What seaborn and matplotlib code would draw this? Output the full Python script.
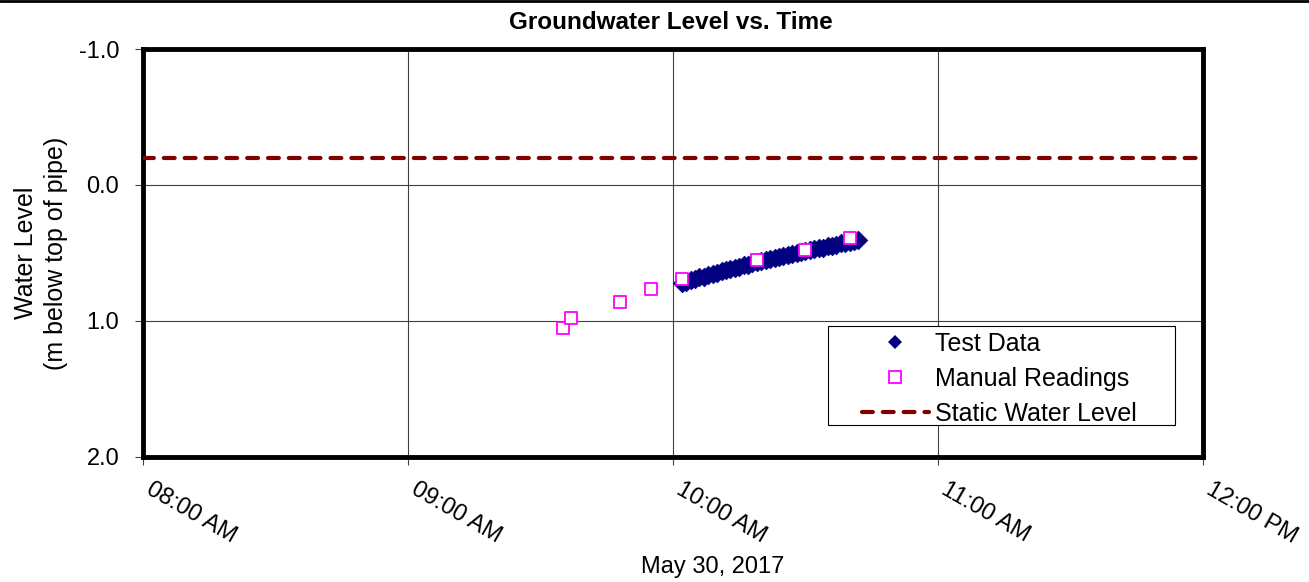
import matplotlib
matplotlib.use("Agg")
import matplotlib.pyplot as plt
import seaborn as sns
import pandas as pd
from matplotlib.patches import Rectangle
from matplotlib.lines import Line2D

# ---------------- data ----------------
date = "2017-05-30"
test_times = ["10:02", "10:03", "10:04", "10:05", "10:06", "10:07", "10:08", "10:09",
              "10:10", "10:11", "10:12", "10:13", "10:14", "10:15", "10:16", "10:17",
              "10:18", "10:19", "10:20", "10:21", "10:22", "10:23", "10:24", "10:25",
              "10:26", "10:27", "10:28", "10:29", "10:30", "10:31", "10:32", "10:33",
              "10:34", "10:35", "10:36", "10:37", "10:38", "10:39", "10:40", "10:41",
              "10:42"]
test_levels = [0.72, 0.71, 0.70, 0.69, 0.68, 0.675, 0.665, 0.655,
               0.645, 0.635, 0.625, 0.615, 0.61, 0.60, 0.59, 0.585,
               0.575, 0.565, 0.56, 0.55, 0.545, 0.535, 0.53, 0.52,
               0.515, 0.505, 0.50, 0.49, 0.485, 0.48, 0.47, 0.465,
               0.46, 0.45, 0.445, 0.44, 0.43, 0.425, 0.42, 0.41,
               0.405]
manual_times = ["09:35", "09:37", "09:48", "09:55", "10:02", "10:19", "10:30", "10:40"]
manual_levels = [1.05, 0.98, 0.86, 0.765, 0.69, 0.55, 0.475, 0.39]
static_level = -0.2
y_ticks = [-1.0, 0.0, 1.0, 2.0]
x_tick_times = ["08:00", "09:00", "10:00", "11:00", "12:00"]
x_tick_labels = ["08:00 AM", "09:00 AM", "10:00 AM", "11:00 AM", "12:00 PM"]
legend_labels = ["Test Data", "Manual Readings", "Static Water Level"]

# ---------------- style ----------------
sns.set_style("white")
plt.rcParams["font.family"] = ["Liberation Sans", "DejaVu Sans"]
plt.rcParams["text.color"] = "black"
plt.rcParams["axes.labelcolor"] = "black"
plt.rcParams["xtick.color"] = "black"
plt.rcParams["ytick.color"] = "black"

fig = plt.figure(figsize=(13.09, 5.82), dpi=100)
ax = fig.add_axes([0.1092, 0.2148, 0.8098, 0.701])

test_df = pd.DataFrame({"time": pd.to_datetime([f"{date} {t}" for t in test_times]),
                        "level": test_levels})
manual_df = pd.DataFrame({"time": pd.to_datetime([f"{date} {t}" for t in manual_times]),
                          "level": manual_levels})

navy = "#000080"
magenta = "#FF00FF"
darkred = "#800000"

sns.scatterplot(data=test_df, x="time", y="level", marker="D", s=90,
                color=navy, edgecolor=navy, linewidth=0.5, ax=ax, zorder=3)
sns.scatterplot(data=manual_df, x="time", y="level", marker="s", s=75,
                facecolor="white", edgecolor=magenta, linewidth=1.3, ax=ax, zorder=4)
ax.axhline(static_level, color=darkred, lw=3, dashes=(2.6, 2.4),
           dash_capstyle="round", zorder=3)

ax.set_xlim(pd.Timestamp(f"{date} 08:00"), pd.Timestamp(f"{date} 12:00"))
ax.set_ylim(2.0, -1.0)
ax.set_yticks(y_ticks)
ax.set_yticklabels([f"{v:.1f}" for v in y_ticks])
ax.set_xticks(pd.to_datetime([f"{date} {t}" for t in x_tick_times]))
ax.set_xticklabels(x_tick_labels, rotation=-30, ha="left", va="top",
                   rotation_mode="default")

ax.grid(True, color="#404040", lw=0.8)
ax.set_axisbelow(True)
ax.tick_params(axis="both", direction="out", length=6, width=0.8,
               color="#404040", labelsize=17, bottom=True, left=True)
ax.tick_params(axis="y", pad=11)
ax.tick_params(axis="x", pad=9)
for s in ax.spines.values():
    s.set_linewidth(3.5)
    s.set_color("black")

ax.set_xlabel("")
ax.set_ylabel("Water Level\n(m below top of pipe)", fontsize=18,
              labelpad=8, linespacing=1.28)

# legend
handles = [
    Line2D([], [], marker="D", ls="none", color=navy, ms=7.5, mew=0),
    Line2D([], [], marker="s", ls="none", mfc="white", mec=magenta, ms=9, mew=1.3),
    Line2D([], [], color=darkred, lw=3, dashes=(2.6, 2.4), dash_capstyle="round"),
]
ax.add_patch(Rectangle((0.646, 0.078), 0.328, 0.243, transform=ax.transAxes,
                       facecolor="white", edgecolor="black", lw=0.8, zorder=4.5))
leg = ax.legend(handles, legend_labels, loc="upper left", bbox_to_anchor=(0.678, 0.307),
                frameon=False, borderpad=0, borderaxespad=0, handlelength=2.7,
                handletextpad=0.25, labelspacing=0.44, fontsize=18)
leg.set_zorder(6)

fig.text(671 / 1309, 1 - 22.5 / 582, "Groundwater Level vs. Time", ha="center",
         va="center", fontsize=17.5, fontweight="bold")
fig.text(713 / 1309, 1 - 567 / 582, "May 30, 2017", ha="center", va="center",
         fontsize=17)
fig.add_artist(Line2D([0, 1], [0.998, 0.998], transform=fig.transFigure,
                      color="black", lw=2))

fig.savefig("out.png", dpi=100)
